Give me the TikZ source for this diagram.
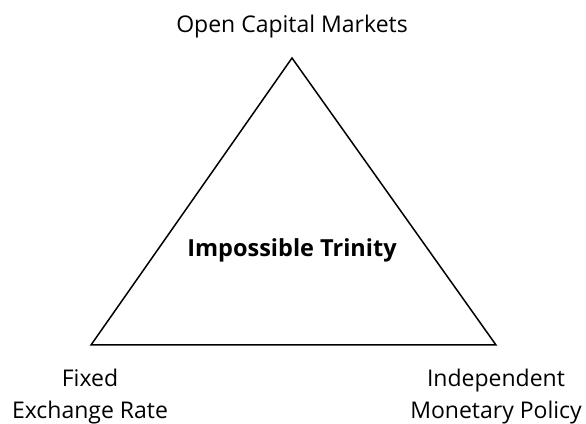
\documentclass[tikz,border=0pt]{standalone}
\usepackage{fontspec}
\setmainfont{Open Sans}
\usepackage{tikz}

\tikzset{
  corner/.style={anchor=base, align=center, font=\fontsize{23}{32}\selectfont},
  title/.style={anchor=base, font=\fontsize{23.5}{32}\selectfont\bfseries}
}

\begin{document}
\begin{tikzpicture}[x=1pt,y=1pt]
\useasboundingbox (0,0) rectangle (586,423);
\coordinate (top) at (292,365);
\coordinate (left) at (91,78);
\coordinate (right) at (496,78);

\draw[line width=1.5pt, line join=miter] (top) -- (left) -- (right) -- cycle;

\node[corner] (capital) at (292,390) {Open Capital Markets};
\node[title] (trinity) at (292,166) {Impossible Trinity};
% base anchor sits on the last line
\node[corner] (fixed) at (90,5) {Fixed\\Exchange Rate};
\node[corner] (monetary) at (496,5) {Independent\\Monetary Policy};
\end{tikzpicture}
\end{document}
